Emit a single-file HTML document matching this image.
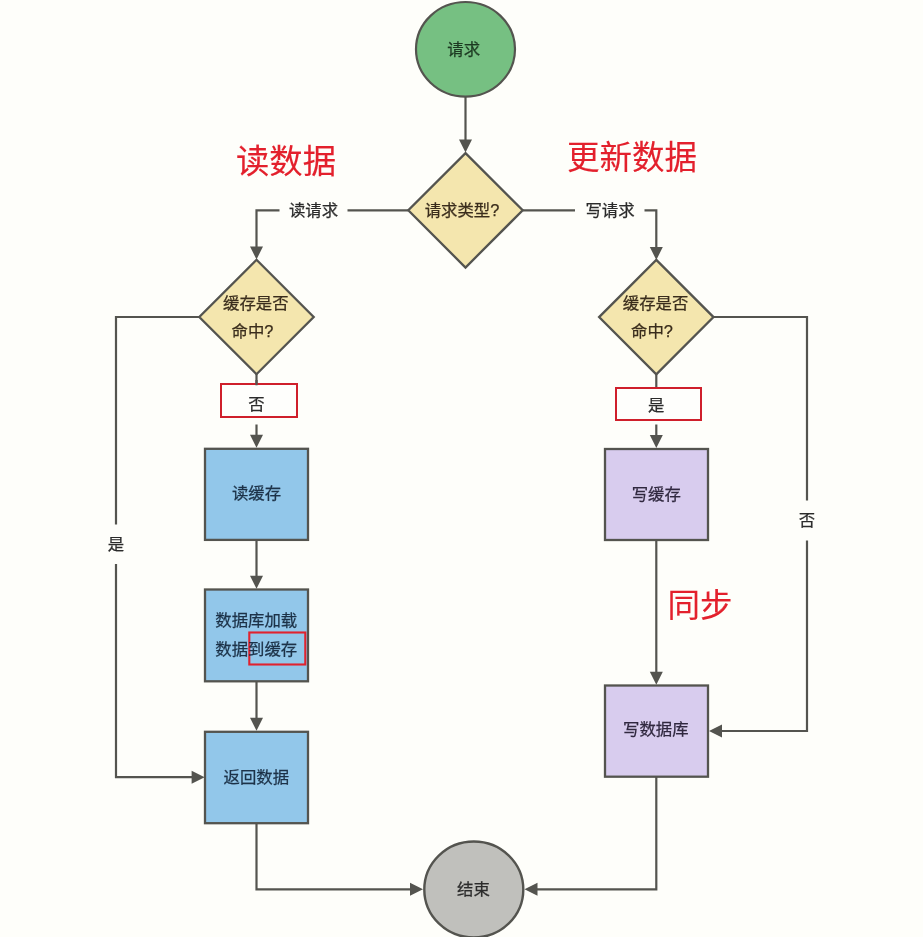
<!DOCTYPE html>
<html lang="zh-CN"><head><meta charset="utf-8"><title>缓存读写流程</title>
<style>
html,body{margin:0;padding:0;background:#fefefa;}
body{width:923px;height:937px;overflow:hidden;}
text{stroke-width:0.25px;} text.t{stroke-width:0.15px;}
svg{display:block;will-change:transform;opacity:0.999;font-family:"Liberation Sans","Noto Sans CJK SC",sans-serif;}
</style></head><body>
<svg width="923" height="937" viewBox="0 0 923 937">
<rect width="923" height="937" fill="#fefefa"/>
<polyline points="465.5,97 465.5,141" fill="none" stroke="#54544f" stroke-width="2.2"/>
<polygon points="459.0,139.5 472.0,139.5 465.5,152.5" fill="#54544f"/>
<polyline points="408,210.3 347.5,210.3" fill="none" stroke="#54544f" stroke-width="2.2"/>
<polyline points="279.5,210.3 256.5,210.3 256.5,248" fill="none" stroke="#54544f" stroke-width="2.2"/>
<polygon points="250.0,246.5 263.0,246.5 256.5,259.5" fill="#54544f"/>
<polyline points="523,210.3 575,210.3" fill="none" stroke="#54544f" stroke-width="2.2"/>
<polyline points="644.5,210.3 656.3,210.3 656.3,248" fill="none" stroke="#54544f" stroke-width="2.2"/>
<polygon points="649.8,247 662.8,247 656.3,260" fill="#54544f"/>
<polyline points="256.5,374 256.5,384" fill="none" stroke="#54544f" stroke-width="2.2"/>
<polyline points="256.5,424.5 256.5,437" fill="none" stroke="#54544f" stroke-width="2.2"/>
<polygon points="250.0,434.8 263.0,434.8 256.5,447.8" fill="#54544f"/>
<polyline points="256.5,540 256.5,578" fill="none" stroke="#54544f" stroke-width="2.2"/>
<polygon points="250.0,575.7 263.0,575.7 256.5,588.7" fill="#54544f"/>
<polyline points="256.5,681 256.5,720" fill="none" stroke="#54544f" stroke-width="2.2"/>
<polygon points="250.0,717.8 263.0,717.8 256.5,730.8" fill="#54544f"/>
<polyline points="200,317 116,317 116,524.5" fill="none" stroke="#54544f" stroke-width="2.2"/>
<polyline points="116,564 116,777.2 193,777.2" fill="none" stroke="#54544f" stroke-width="2.2"/>
<polygon points="191.6,770.7 191.6,783.7 204.6,777.2" fill="#54544f"/>
<polyline points="256.5,823 256.5,889.3 412,889.3" fill="none" stroke="#54544f" stroke-width="2.2"/>
<polygon points="410,882.8 410,895.8 423,889.3" fill="#54544f"/>
<polyline points="656.3,374 656.3,388" fill="none" stroke="#54544f" stroke-width="2.2"/>
<polyline points="656.3,424.5 656.3,437" fill="none" stroke="#54544f" stroke-width="2.2"/>
<polygon points="649.8,435 662.8,435 656.3,448" fill="#54544f"/>
<polyline points="656.3,540 656.3,674" fill="none" stroke="#54544f" stroke-width="2.2"/>
<polygon points="649.8,671.7 662.8,671.7 656.3,684.7" fill="#54544f"/>
<polyline points="713,317 807,317 807,500.5" fill="none" stroke="#54544f" stroke-width="2.2"/>
<polyline points="807,540.5 807,731 720,731" fill="none" stroke="#54544f" stroke-width="2.2"/>
<polygon points="722,724.5 722,737.5 709,731" fill="#54544f"/>
<polyline points="656.3,776 656.3,889.3 536,889.3" fill="none" stroke="#54544f" stroke-width="2.2"/>
<polygon points="537.5,882.8 537.5,895.8 524.5,889.3" fill="#54544f"/>
<ellipse cx="465.5" cy="49.3" rx="49.5" ry="47.3" fill="#76c082" stroke="#54544f" stroke-width="2.2"/>
<ellipse cx="473.8" cy="889.5" rx="49.5" ry="48" fill="#c0c0bc" stroke="#54544f" stroke-width="2.4"/>
<polygon points="465.5,153.10000000000002 522.7,210.3 465.5,267.5 408.3,210.3" fill="#f4e6ae" stroke="#54544f" stroke-width="2.3" stroke-linejoin="miter"/>
<polygon points="256.5,259.8 313.7,317 256.5,374.2 199.3,317" fill="#f4e6ae" stroke="#54544f" stroke-width="2.3" stroke-linejoin="miter"/>
<polygon points="656.3,259.90000000000003 713.5,317.1 656.3,374.3 599.0999999999999,317.1" fill="#f4e6ae" stroke="#54544f" stroke-width="2.3" stroke-linejoin="miter"/>
<rect x="205" y="448.8" width="103" height="91.09999999999997" fill="#92c7ea" stroke="#54544f" stroke-width="2.3"/>
<rect x="205" y="589.5" width="103" height="91.79999999999995" fill="#92c7ea" stroke="#54544f" stroke-width="2.3"/>
<rect x="205" y="731.8" width="103" height="91.40000000000009" fill="#92c7ea" stroke="#54544f" stroke-width="2.3"/>
<rect x="605" y="449" width="103" height="91" fill="#d8ccee" stroke="#54544f" stroke-width="2.3"/>
<rect x="605" y="685.5" width="103" height="91.20000000000005" fill="#d8ccee" stroke="#54544f" stroke-width="2.3"/>
<rect x="221" y="384" width="76" height="33" fill="#fefefc" stroke="#cf1f2b" stroke-width="2"/>
<rect x="616" y="388" width="85" height="32" fill="#fefefc" stroke="#cf1f2b" stroke-width="2"/>
<rect x="249.3" y="632.5" width="56" height="32" fill="none" stroke="#e0222e" stroke-width="2.1"/>
<polyline points="256.5,380 256.5,385.3" fill="none" stroke="#54544f" stroke-width="2.2"/>
<text x="463.7" y="55" font-size="16.4" fill="#1d3a22" stroke="#1d3a22" text-anchor="middle" >请求</text>
<text x="473.5" y="894.8" font-size="16.4" fill="#2b2b2b" stroke="#2b2b2b" text-anchor="middle" >结束</text>
<text x="462" y="216" font-size="16.4" fill="#3a2d1c" stroke="#3a2d1c" text-anchor="middle" >请求类型?</text>
<text x="313.5" y="216" font-size="16.4" fill="#2b2b2b" stroke="#2b2b2b" text-anchor="middle" >读请求</text>
<text x="610" y="216" font-size="16.4" fill="#2b2b2b" stroke="#2b2b2b" text-anchor="middle" >写请求</text>
<text x="255.8" y="309" font-size="16.4" fill="#3a2d1c" stroke="#3a2d1c" text-anchor="middle" >缓存是否</text>
<text x="252.5" y="337" font-size="16.4" fill="#3a2d1c" stroke="#3a2d1c" text-anchor="middle" >命中?</text>
<text x="655.6" y="309" font-size="16.4" fill="#3a2d1c" stroke="#3a2d1c" text-anchor="middle" >缓存是否</text>
<text x="652" y="337" font-size="16.4" fill="#3a2d1c" stroke="#3a2d1c" text-anchor="middle" >命中?</text>
<text x="256.5" y="410" font-size="16.4" fill="#2b2b2b" stroke="#2b2b2b" text-anchor="middle" >否</text>
<text x="656.3" y="411" font-size="16.4" fill="#2b2b2b" stroke="#2b2b2b" text-anchor="middle" >是</text>
<text x="256.5" y="499.3" font-size="16.4" fill="#1c3248" stroke="#1c3248" text-anchor="middle" >读缓存</text>
<text x="656.3" y="499.5" font-size="16.4" fill="#30283f" stroke="#30283f" text-anchor="middle" >写缓存</text>
<text x="256.3" y="625.7" font-size="16.4" fill="#1c3248" stroke="#1c3248" text-anchor="middle" >数据库加载</text>
<text x="256.3" y="655.2" font-size="16.4" fill="#1c3248" stroke="#1c3248" text-anchor="middle" >数据到缓存</text>
<text x="256.3" y="783" font-size="16.4" fill="#1c3248" stroke="#1c3248" text-anchor="middle" >返回数据</text>
<text x="655.8" y="735.3" font-size="16.4" fill="#30283f" stroke="#30283f" text-anchor="middle" >写数据库</text>
<text x="116" y="549.8" font-size="16.4" fill="#2b2b2b" stroke="#2b2b2b" text-anchor="middle" >是</text>
<text x="807" y="526" font-size="16.4" fill="#2b2b2b" stroke="#2b2b2b" text-anchor="middle" >否</text>
<text x="286" y="173.3" font-size="33.4" fill="#e3202c" stroke="#e3202c" text-anchor="middle" class="t">读数据</text>
<text x="632" y="168.6" font-size="32.5" fill="#e3202c" stroke="#e3202c" text-anchor="middle" class="t">更新数据</text>
<text x="700" y="616.5" font-size="32.5" fill="#e3202c" stroke="#e3202c" text-anchor="middle" class="t">同步</text>
</svg>
</body></html>
